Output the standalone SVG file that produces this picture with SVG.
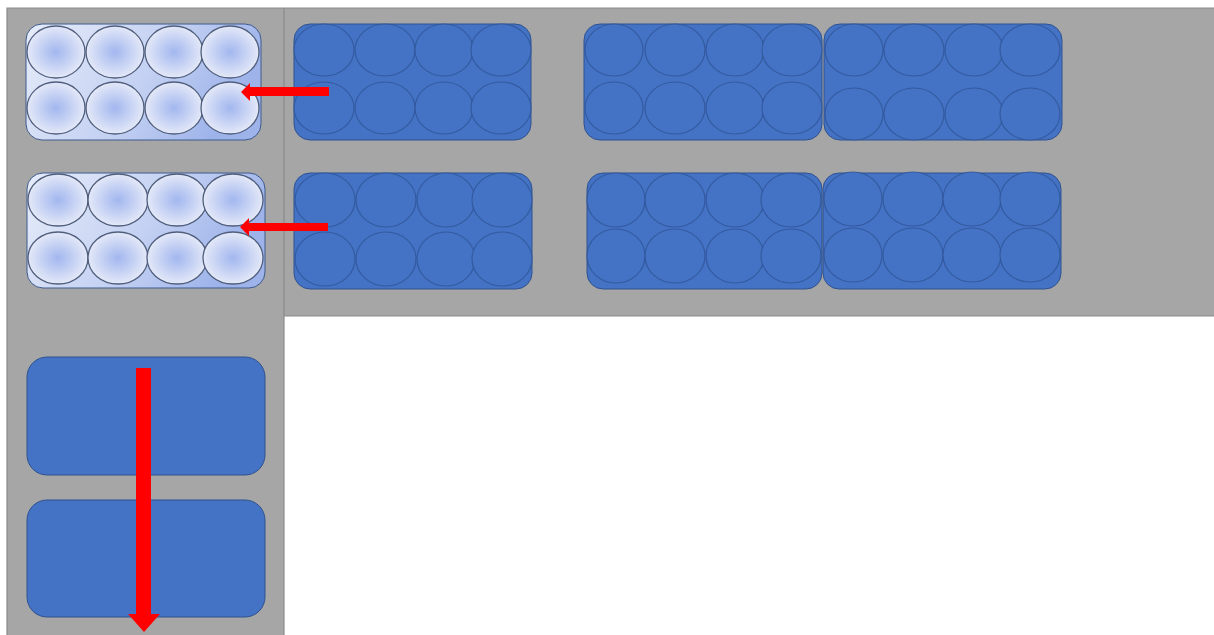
<svg xmlns="http://www.w3.org/2000/svg" width="1214" height="635" viewBox="0 0 1214 635">
<defs>
<linearGradient id="lp" x1="0" y1="0" x2="1" y2="0.3">
<stop offset="0" stop-color="#e6ecf9"/>
<stop offset="0.6" stop-color="#c3d0f2"/>
<stop offset="1" stop-color="#9db3ea"/>
</linearGradient>
<radialGradient id="lw" cx="0.5" cy="0.5" r="0.5">
<stop offset="0" stop-color="#a3b7ef"/>
<stop offset="0.35" stop-color="#b9c8f2"/>
<stop offset="1" stop-color="#e4e9f8"/>
</radialGradient>
</defs>
<style>
.bg{fill:#a6a6a6;stroke:none}
.edge{stroke:#8a8a8a;stroke-width:1.2;fill:none}
.lplate{fill:url(#lp);stroke:#3e5a8c;stroke-width:1}
.lwell{fill:url(#lw);stroke:#4f5e7c;stroke-width:1.3}
.dplate{fill:#4472c4;stroke:#2f528f;stroke-width:1}
.dwell{fill:#4472c4;stroke:#2f5597;stroke-opacity:0.8;stroke-width:1.2}
.empty{fill:#4472c4;stroke:#2f528f;stroke-width:1}
.arrow{fill:#ff0000;stroke:none}
</style>
<rect width="1214" height="635" fill="#ffffff"/>
<g id="background">
<rect class="bg" x="7" y="8" width="277" height="627"/>
<rect class="bg" x="284" y="8" width="930" height="308"/>
<path class="edge" d="M7,635 V8 H1214 M284,8 V316 H1214 M284,316 V635"/>
</g>
<g id="plate-light-1">
<rect class="lplate" x="26" y="24" width="235" height="116" rx="16"/>
<ellipse class="lwell" cx="56" cy="52" rx="29" ry="26"/>
<ellipse class="lwell" cx="115" cy="52" rx="29" ry="26"/>
<ellipse class="lwell" cx="174" cy="52" rx="29" ry="26"/>
<ellipse class="lwell" cx="230" cy="52" rx="29" ry="26"/>
<ellipse class="lwell" cx="56" cy="108" rx="29" ry="26"/>
<ellipse class="lwell" cx="115" cy="108" rx="29" ry="26"/>
<ellipse class="lwell" cx="174" cy="108" rx="29" ry="26"/>
<ellipse class="lwell" cx="230" cy="108" rx="29" ry="26"/>
</g>
<g id="plate-light-2">
<rect class="lplate" x="27" y="173" width="238" height="115" rx="16"/>
<ellipse class="lwell" cx="58" cy="200" rx="30" ry="26"/>
<ellipse class="lwell" cx="118" cy="200" rx="30" ry="26"/>
<ellipse class="lwell" cx="177" cy="200" rx="30" ry="26"/>
<ellipse class="lwell" cx="233" cy="200" rx="30" ry="26"/>
<ellipse class="lwell" cx="58" cy="258" rx="30" ry="26"/>
<ellipse class="lwell" cx="118" cy="258" rx="30" ry="26"/>
<ellipse class="lwell" cx="177" cy="258" rx="30" ry="26"/>
<ellipse class="lwell" cx="233" cy="258" rx="30" ry="26"/>
</g>
<g id="plate-a">
<rect class="dplate" x="294" y="24" width="237" height="116" rx="16"/>
<ellipse class="dwell" cx="324" cy="50" rx="30" ry="26"/>
<ellipse class="dwell" cx="385" cy="50" rx="30" ry="26"/>
<ellipse class="dwell" cx="444" cy="50" rx="29" ry="26"/>
<ellipse class="dwell" cx="501" cy="50" rx="30" ry="26"/>
<ellipse class="dwell" cx="324" cy="108" rx="30" ry="26"/>
<ellipse class="dwell" cx="385" cy="108" rx="30" ry="26"/>
<ellipse class="dwell" cx="444" cy="108" rx="29" ry="26"/>
<ellipse class="dwell" cx="501" cy="108" rx="30" ry="26"/>
</g>
<g id="plate-b">
<rect class="dplate" x="584" y="24" width="238" height="116" rx="16"/>
<ellipse class="dwell" cx="614" cy="50" rx="29" ry="26"/>
<ellipse class="dwell" cx="675" cy="50" rx="30" ry="26"/>
<ellipse class="dwell" cx="735" cy="50" rx="29" ry="26"/>
<ellipse class="dwell" cx="792" cy="50" rx="30" ry="26"/>
<ellipse class="dwell" cx="614" cy="108" rx="29" ry="26"/>
<ellipse class="dwell" cx="675" cy="108" rx="30" ry="26"/>
<ellipse class="dwell" cx="735" cy="108" rx="29" ry="26"/>
<ellipse class="dwell" cx="792" cy="108" rx="30" ry="26"/>
</g>
<g id="plate-c">
<rect class="dplate" x="824" y="24" width="238" height="116" rx="16"/>
<ellipse class="dwell" cx="854" cy="50" rx="29" ry="26"/>
<ellipse class="dwell" cx="914" cy="50" rx="30" ry="26"/>
<ellipse class="dwell" cx="974" cy="50" rx="29" ry="26"/>
<ellipse class="dwell" cx="1030" cy="50" rx="30" ry="26"/>
<ellipse class="dwell" cx="854" cy="114" rx="29" ry="26"/>
<ellipse class="dwell" cx="914" cy="114" rx="30" ry="26"/>
<ellipse class="dwell" cx="974" cy="114" rx="29" ry="26"/>
<ellipse class="dwell" cx="1030" cy="114" rx="30" ry="26"/>
</g>
<g id="plate-d">
<rect class="dplate" x="294" y="173" width="238" height="116" rx="16"/>
<ellipse class="dwell" cx="325" cy="200" rx="30" ry="27"/>
<ellipse class="dwell" cx="386" cy="200" rx="30" ry="27"/>
<ellipse class="dwell" cx="446" cy="200" rx="29" ry="27"/>
<ellipse class="dwell" cx="502" cy="200" rx="30" ry="27"/>
<ellipse class="dwell" cx="325" cy="259" rx="30" ry="27"/>
<ellipse class="dwell" cx="386" cy="259" rx="30" ry="27"/>
<ellipse class="dwell" cx="446" cy="259" rx="29" ry="27"/>
<ellipse class="dwell" cx="502" cy="259" rx="30" ry="27"/>
</g>
<g id="plate-e">
<rect class="dplate" x="587" y="173" width="235" height="116" rx="16"/>
<ellipse class="dwell" cx="616" cy="200" rx="29" ry="27"/>
<ellipse class="dwell" cx="675" cy="200" rx="30" ry="27"/>
<ellipse class="dwell" cx="735" cy="200" rx="29" ry="27"/>
<ellipse class="dwell" cx="791" cy="200" rx="30" ry="27"/>
<ellipse class="dwell" cx="616" cy="256" rx="29" ry="27"/>
<ellipse class="dwell" cx="675" cy="256" rx="30" ry="27"/>
<ellipse class="dwell" cx="735" cy="256" rx="29" ry="27"/>
<ellipse class="dwell" cx="791" cy="256" rx="30" ry="27"/>
</g>
<g id="plate-f">
<rect class="dplate" x="823" y="173" width="238" height="116" rx="16"/>
<ellipse class="dwell" cx="853" cy="199" rx="29" ry="27"/>
<ellipse class="dwell" cx="913" cy="199" rx="30" ry="27"/>
<ellipse class="dwell" cx="972" cy="199" rx="29" ry="27"/>
<ellipse class="dwell" cx="1030" cy="199" rx="30" ry="27"/>
<ellipse class="dwell" cx="853" cy="255" rx="29" ry="27"/>
<ellipse class="dwell" cx="913" cy="255" rx="30" ry="27"/>
<ellipse class="dwell" cx="972" cy="255" rx="29" ry="27"/>
<ellipse class="dwell" cx="1030" cy="255" rx="30" ry="27"/>
</g>
<g id="plate-empty-1">
<rect class="empty" x="27" y="357" width="238" height="118" rx="20"/>
</g>
<g id="plate-empty-2">
<rect class="empty" x="27" y="500" width="238" height="117" rx="20"/>
</g>
<g id="connectors">
<polygon class="arrow" points="329,87 250,87 250,83 241,92 250,101 250,96 329,96"/>
<polygon class="arrow" points="328,223 249,223 249,218 240,227 249,236 249,231 328,231"/>
<polygon class="arrow" points="136,368 151,368 151,614 160,614 144,632 128,614 136,614"/>
</g>
</svg>
